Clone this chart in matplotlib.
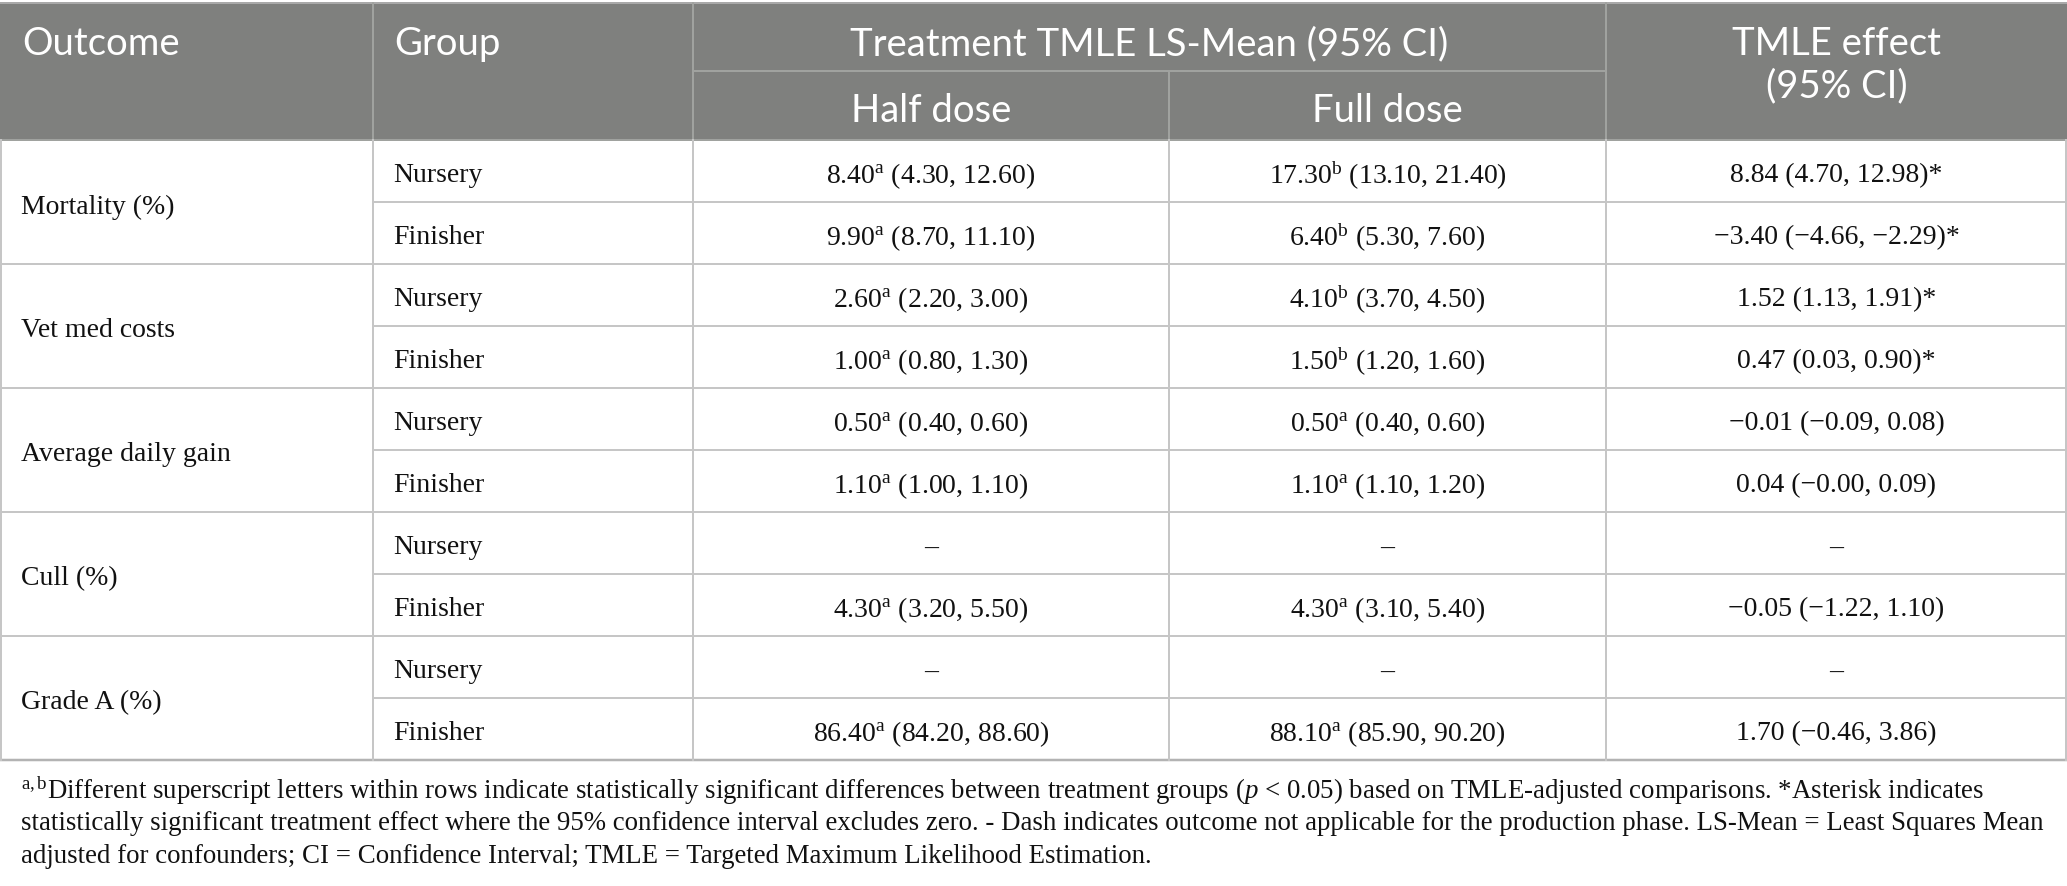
import matplotlib
matplotlib.use('Agg')
import matplotlib.pyplot as plt

plt.rcParams['mathtext.fontset'] = 'custom'
plt.rcParams['mathtext.rm'] = 'Liberation Serif'
plt.rcParams['mathtext.it'] = 'Liberation Serif:italic'

# table data
outcomes = ['Mortality (%)', 'Vet med costs', 'Average daily gain', 'Cull (%)', 'Grade A (%)']
groups = ['Nursery', 'Finisher'] * 5

half_mean = [8.40, 9.90, 2.60, 1.00, 0.50, 1.10, None, 4.30, None, 86.40]
half_lo = [4.30, 8.70, 2.20, 0.80, 0.40, 1.00, None, 3.20, None, 84.20]
half_hi = [12.60, 11.10, 3.00, 1.30, 0.60, 1.10, None, 5.50, None, 88.60]
half_sup = ['a', 'a', 'a', 'a', 'a', 'a', None, 'a', None, 'a']

full_mean = [17.30, 6.40, 4.10, 1.50, 0.50, 1.10, None, 4.30, None, 88.10]
full_lo = [13.10, 5.30, 3.70, 1.20, 0.40, 1.10, None, 3.10, None, 85.90]
full_hi = [21.40, 7.60, 4.50, 1.60, 0.60, 1.20, None, 5.40, None, 90.20]
full_sup = ['b', 'b', 'b', 'b', 'a', 'a', None, 'a', None, 'a']

eff = [8.84, -3.40, 1.52, 0.47, -0.01, 0.04, None, -0.05, None, 1.70]
eff_lo = [4.70, -4.66, 1.13, 0.03, -0.09, -0.0, None, -1.22, None, -0.46]
eff_hi = [12.98, -2.29, 1.91, 0.90, 0.08, 0.09, None, 1.10, None, 3.86]
eff_sig = [True, True, True, True, False, False, None, False, None, False]

footnote = [
    r'$^{\mathrm{a,b}}$Different superscript letters within rows indicate statistically significant differences between treatment groups ($p$ < 0.05) based on TMLE-adjusted comparisons. *Asterisk indicates',
    'statistically significant treatment effect where the 95% confidence interval excludes zero. - Dash indicates outcome not applicable for the production phase. LS-Mean = Least Squares Mean',
    'adjusted for confounders; CI = Confidence Interval; TMLE = Targeted Maximum Likelihood Estimation.',
]


def num(v):
    return f'{v:.2f}'.replace('-', '\u2212')


def ls_cell(m, lo, hi, s):
    if m is None:
        return '\u2013'
    return num(m) + r'$^{\mathrm{' + s + '}}$ (' + num(lo) + ', ' + num(hi) + ')'


def eff_cell(m, lo, hi, sig):
    if m is None:
        return '\u2013'
    return num(m) + ' (' + num(lo) + ', ' + num(hi) + ')' + ('*' if sig else '')


W, H = 2067, 887
fig = plt.figure(figsize=(W / 100, H / 100), dpi=100)
ax = fig.add_axes([0, 0, 1, 1])
ax.set_xlim(0, W)
ax.set_ylim(H, 0)
ax.axis('off')

top, mid, hdr = 4, 72, 141
rh = 62
nrows = len(groups)
bottom = hdr + rh * nrows

head_bg = '#7f807e'
head_line = '#a0a29f'
grid = '#c6c6c6'
px = 72 / 100

ax.fill_between([0, W], top, hdr, color=head_bg, lw=0)
ax.plot([0, W], [top, top], color='#a9a9a9', lw=2 * px)
for x in [373, 693, 1606]:
    ax.plot([x, x], [top, hdr], color=head_line, lw=2 * px)
ax.plot([693, 1606], [mid, mid], color=head_line, lw=2 * px)
ax.plot([1169, 1169], [mid, hdr], color=head_line, lw=2 * px)

hf = dict(family='Lato', fontsize=27.5, color='white', va='center')
ax.text(22, 44, 'Outcome', ha='left', **hf)
ax.text(394, 44, 'Group', ha='left', **hf)
ax.text((693 + 1606) / 2, 44, 'Treatment TMLE LS-Mean (95% CI)', ha='center', **hf)
ax.text((693 + 1169) / 2, 111, 'Half dose', ha='center', **hf)
ax.text((1169 + 1606) / 2, 111, 'Full dose', ha='center', **hf)
ax.text((1606 + W) / 2, 44, 'TMLE effect', ha='center', **hf)
ax.text((1606 + W) / 2, 86, '(95% CI)', ha='center', **hf)

# body grid
for i in range(1, nrows):
    y = hdr + rh * i
    x0 = 0 if i % 2 == 0 else 373
    ax.plot([x0, W], [y, y], color=grid, lw=2 * px)
ax.plot([0, W], [hdr, hdr], color=head_line, lw=2 * px)
ax.plot([0, W], [bottom, bottom], color='#b3b3b3', lw=2.5 * px)
for x in [1, 373, 693, 1169, 1606, W - 1]:
    ax.plot([x, x], [hdr, bottom], color=grid, lw=2 * px)

bf = dict(family='Liberation Serif', fontsize=20, color='#111111', va='center')
dy = 4
for k, name in enumerate(outcomes):
    ax.text(21, hdr + rh * 2 * k + rh + dy, name, ha='left', **bf)
for i in range(nrows):
    yc = hdr + rh * i + rh / 2 + dy
    ax.text(393, yc, groups[i], ha='left', **bf)
    ax.text((693 + 1169) / 2, yc, ls_cell(half_mean[i], half_lo[i], half_hi[i], half_sup[i]), ha='center', **bf)
    ax.text((1169 + 1606) / 2, yc, ls_cell(full_mean[i], full_lo[i], full_hi[i], full_sup[i]), ha='center', **bf)
    ax.text((1606 + W) / 2, yc, eff_cell(eff[i], eff_lo[i], eff_hi[i], eff_sig[i]), ha='center', **bf)

for j, line in enumerate(footnote):
    ax.text(21, 791 + 33 * j, line, ha='left', va='center', family='Liberation Serif',
            fontsize=19.4, color='#111111')

fig.savefig('out.png', dpi=100)
